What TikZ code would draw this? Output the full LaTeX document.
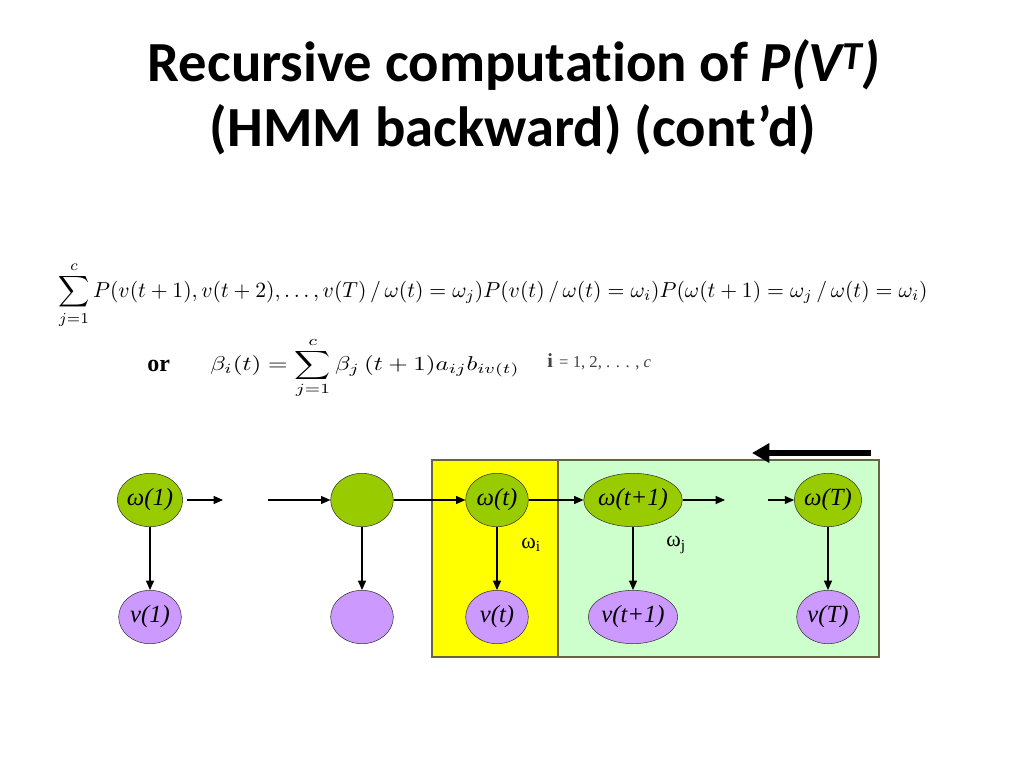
\documentclass[tikz,border=0pt]{standalone}
\usepackage{fontspec}
\setmainfont{Liberation Serif}
\newfontfamily\titlefont[Ligatures=NoCommon]{Carlito}
\usetikzlibrary{arrows.meta,shapes.geometric}
\definecolor{stgreen}{HTML}{99CC00}
\definecolor{obspurple}{HTML}{CC99FF}
\definecolor{boxyellow}{HTML}{FFFF00}
\definecolor{boxgreen}{HTML}{CCFFCC}
\definecolor{boxedge}{HTML}{666644}
\tikzset{
  statenode/.style={ellipse, draw=black!80, fill=stgreen, minimum width=47pt, minimum height=40pt, inner sep=0pt, font=\fontsize{18.5}{18.5}\selectfont\itshape},
  obsnode/.style={ellipse, draw=black!80, fill=obspurple, minimum width=47pt, minimum height=40pt, inner sep=0pt, font=\fontsize{18.5}{18.5}\selectfont\itshape},
  conn/.style={-{Triangle[length=7pt,width=6pt]}, line width=0.8pt},
  bigarrow/.style={-{Triangle[length=13pt,width=14pt]}, line width=3.8pt},
  region/.style={draw=boxedge, line width=0.8pt},
}
\begin{document}
\begin{tikzpicture}[x=0.75pt,y=-0.75pt]
\useasboundingbox (0,0) rectangle (1024,768);
\fill[white] (0,0) rectangle (1024,768);
% title
\node[font=\titlefont\bfseries\fontsize{42.5}{42.5}\selectfont] (t1) at (514,65) {Recursive computation of \textit{P(V\textsuperscript{T})}};
\node[font=\titlefont\bfseries\fontsize{42.5}{42.5}\selectfont] (t2) at (513,130) {(HMM backward) (cont’d)};
% equation 1
\node[anchor=west, inner sep=0pt] (eq1) at (58,295) {\resizebox*{652pt}{50pt}{$\displaystyle\sum_{j=1}^{c}P(v(t+1),v(t+2),\ldots,v(T)\,/\,\omega(t)=\omega_j)P(v(t)\,/\,\omega(t)=\omega_i)P(\omega(t+1)=\omega_j\,/\,\omega(t)=\omega_i)$}};
% equation 2
\node[anchor=west, inner sep=0pt, font=\bfseries\fontsize{18}{18}\selectfont] (or) at (147,366) {or};
\node[anchor=west, inner sep=0pt] (eq2) at (210,368) {\resizebox*{232pt}{46pt}{$\displaystyle\beta_i(t)=\sum_{j=1}^{c}\beta_j\,(t+1)a_{ij}b_{iv(t)}$}};
\node[anchor=west, inner sep=0pt, text=black!75] (range) at (547,362) {\textbf{\fontsize{15}{15}\selectfont i}\,\fontsize{12.5}{12.5}\selectfont{} = 1, 2, . . . , \textit{c}};
% regions
\filldraw[region, fill=boxyellow] (432,460) rectangle (558,657);
\filldraw[region, fill=boxgreen] (558,460) rectangle (879,657);
% nodes
\node[statenode] (w1) at (150,500) {ω(1)};
\node[statenode] (wm) at (362,500) {};
\node[statenode] (wt) at (497,500) {ω(t)};
\node[statenode] (wt1) at (633,500) {ω(t+1)};
\node[statenode] (wT) at (828,500) {ω(T)};
\node[obsnode] (v1) at (150,617) {v(1)};
\node[obsnode] (vm) at (362,617) {};
\node[obsnode] (vt) at (497,617) {v(t)};
\node[obsnode] (vt1) at (633,617) {v(t+1)};
\node[obsnode] (vT) at (828,617) {v(T)};
% free ends
\coordinate (a1s) at (187,500);
\coordinate (a1e) at (223,500);
\coordinate (a2s) at (268,500);
\coordinate (a3e) at (725,500);
\coordinate (a4s) at (768,500);
\coordinate (bas) at (871,453);
\coordinate (bae) at (752,453);
% connectors
\draw[conn] (a1s) -- (a1e);
\draw[conn] (a2s) -- (wm);
\draw[conn] (wm) -- (wt);
\draw[conn] (wt) -- (wt1);
\draw[conn] (wt1) -- (a3e);
\draw[conn] (a4s) -- (wT);
\draw[conn] (w1) -- (v1);
\draw[conn] (wm) -- (vm);
\draw[conn] (wt) -- (vt);
\draw[conn] (wt1) -- (vt1);
\draw[conn] (wT) -- (vT);
\draw[bigarrow] (bas) -- (bae);
% labels
\node[font=\fontsize{16.5}{16.5}\selectfont] (li) at (531,545) {ω\textsubscript{i}};
\node[font=\fontsize{16.5}{16.5}\selectfont] (lj) at (676,545) {ω\textsubscript{j}};
\end{tikzpicture}
\end{document}
